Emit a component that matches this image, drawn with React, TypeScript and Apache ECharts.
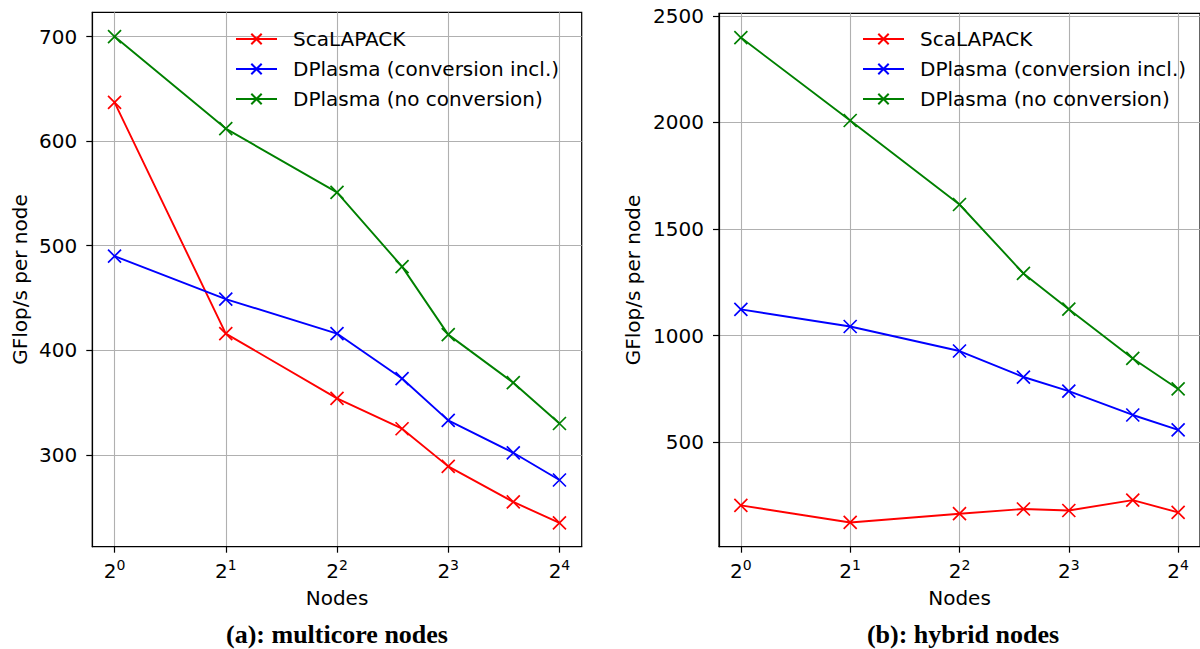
import React, { useEffect, useRef } from "react";
import * as echarts from "echarts";

const nodes = [1, 2, 4, 6, 8, 12, 16];
const xTickExponents = [0, 1, 2, 3, 4];
const leftYTicks = [300, 400, 500, 600, 700];
const rightYTicks = [500, 1000, 1500, 2000, 2500];
const seriesNames = ["ScaLAPACK", "DPlasma (conversion incl.)", "DPlasma (no conversion)"];
const seriesColors = ["#ff0000", "#0000ff", "#008000"];

const multicoreScalapack = [637, 416, 354, 325, 289, 255, 235];
const multicoreDplasmaConv = [490, 449, 416, 373, 333, 302, 276];
const multicoreDplasmaNoConv = [700, 612, 551, 480, 415, 369, 330];

const hybridScalapack = [204, 124, 165, 187, 180, 229, 171];
const hybridDplasmaConv = [1123, 1043, 928, 806, 740, 628, 558];
const hybridDplasmaNoConv = [2398, 2009, 1615, 1292, 1124, 893, 750];

const panelTitles = ["(a): multicore nodes", "(b): hybrid nodes"];

const FONT = "DejaVu Sans";
const FS = 20;
const X_MARK = "path://M0,0L10,10M10,0L0,10";

function makeSeries(name: string, color: string, values: number[], idx: number) {
  return {
    type: "line",
    name,
    xAxisIndex: idx,
    yAxisIndex: idx,
    data: values.map((v, i) => [Math.log2(nodes[i]), v]),
    symbol: X_MARK,
    symbolSize: 13,
    showAllSymbol: true,
    lineStyle: { color, width: 1.9 },
    itemStyle: { color: "none", borderColor: color, borderWidth: 1.7 },
    emphasis: { disabled: true },
    z: 3,
  };
}

function xAxis(idx: number) {
  return {
    type: "value",
    gridIndex: idx,
    min: -0.2,
    max: 4.2,
    name: "Nodes",
    nameLocation: "middle",
    nameGap: 41,
    nameTextStyle: { fontFamily: FONT, fontSize: FS, color: "#000" },
    axisLine: { show: true, onZero: false, lineStyle: { color: "#000", width: 1.2 } },
    axisTick: { show: true, customValues: xTickExponents, length: 6, lineStyle: { color: "#000", width: 1.2 } },
    axisLabel: {
      customValues: xTickExponents,
      margin: 11,
      formatter: (v: number) => `{b|2}{s|${Math.round(v)}}`,
      rich: {
        b: { fontFamily: FONT, fontSize: FS, color: "#000" },
        s: { fontFamily: FONT, fontSize: 14, color: "#000", padding: [0, 0, 13, 0] },
      },
    },
    splitLine: { show: true, lineStyle: { color: "#b0b0b0", width: 1.1 } },
  };
}

function yAxis(idx: number, min: number, max: number, ticks: number[], gap: number) {
  return {
    type: "value",
    gridIndex: idx,
    min,
    max,
    name: "GFlop/s per node",
    nameLocation: "middle",
    nameRotate: 90,
    nameGap: gap,
    nameTextStyle: { fontFamily: FONT, fontSize: FS, color: "#000" },
    axisLine: { show: true, onZero: false, lineStyle: { color: "#000", width: 1.2 } },
    axisTick: { show: true, customValues: ticks, length: 6, lineStyle: { color: "#000", width: 1.2 } },
    axisLabel: {
      customValues: ticks,
      margin: 15,
      fontFamily: FONT,
      fontSize: FS,
      color: "#000",
      formatter: (v: number) => String(Math.round(v)),
    },
    splitLine: { show: true, lineStyle: { color: "#b0b0b0", width: 1.1 } },
  };
}

function legend(left: number) {
  return {
    orient: "vertical",
    left,
    top: 29,
    padding: 0,
    itemWidth: 41,
    itemHeight: 13,
    itemGap: 10,
    data: seriesNames,
    selectedMode: false,
    textStyle: { fontFamily: FONT, fontSize: FS, color: "#000", padding: [0, 0, 0, 11] },
  };
}

export default function App() {
  const ref = useRef<HTMLDivElement>(null);
  useEffect(() => {
    if (!ref.current) return;
    const chart = echarts.init(ref.current, undefined, { renderer: "svg" });
    const option: any = {
      animation: false,
      backgroundColor: "#fff",
      grid: [
        { left: 92.3, top: 12.3, right: 618.3, bottom: 102.3, show: true, borderColor: "#000", borderWidth: 1.2, backgroundColor: "transparent" },
        { left: 719, top: 13.3, right: -8, bottom: 102.3, show: true, borderColor: "#000", borderWidth: 1.2, backgroundColor: "transparent" },
      ],
      xAxis: [xAxis(0), xAxis(1)],
      yAxis: [yAxis(0, 212.2, 723.2, leftYTicks, 62), yAxis(1, 10.3, 2511.7, rightYTicks, 76)],
      legend: [legend(235), legend(862)],
      series: [
        makeSeries(seriesNames[0], seriesColors[0], multicoreScalapack, 0),
        makeSeries(seriesNames[1], seriesColors[1], multicoreDplasmaConv, 0),
        makeSeries(seriesNames[2], seriesColors[2], multicoreDplasmaNoConv, 0),
        makeSeries(seriesNames[0], seriesColors[0], hybridScalapack, 1),
        makeSeries(seriesNames[1], seriesColors[1], hybridDplasmaConv, 1),
        makeSeries(seriesNames[2], seriesColors[2], hybridDplasmaNoConv, 1),
      ],
      graphic: [
        { type: "text", x: 337, y: 634, style: { text: panelTitles[0], font: 'bold 26px "Liberation Serif"', fill: "#000", textAlign: "center", textVerticalAlign: "middle" } },
        { type: "text", x: 963, y: 634, style: { text: panelTitles[1], font: 'bold 26px "Liberation Serif"', fill: "#000", textAlign: "center", textVerticalAlign: "middle" } },
      ],
    };
    chart.setOption(option);
    return () => chart.dispose();
  }, []);
  return <div ref={ref} style={{ position: "fixed", left: 0, top: 0, width: 1200, height: 649 }} />;
}
